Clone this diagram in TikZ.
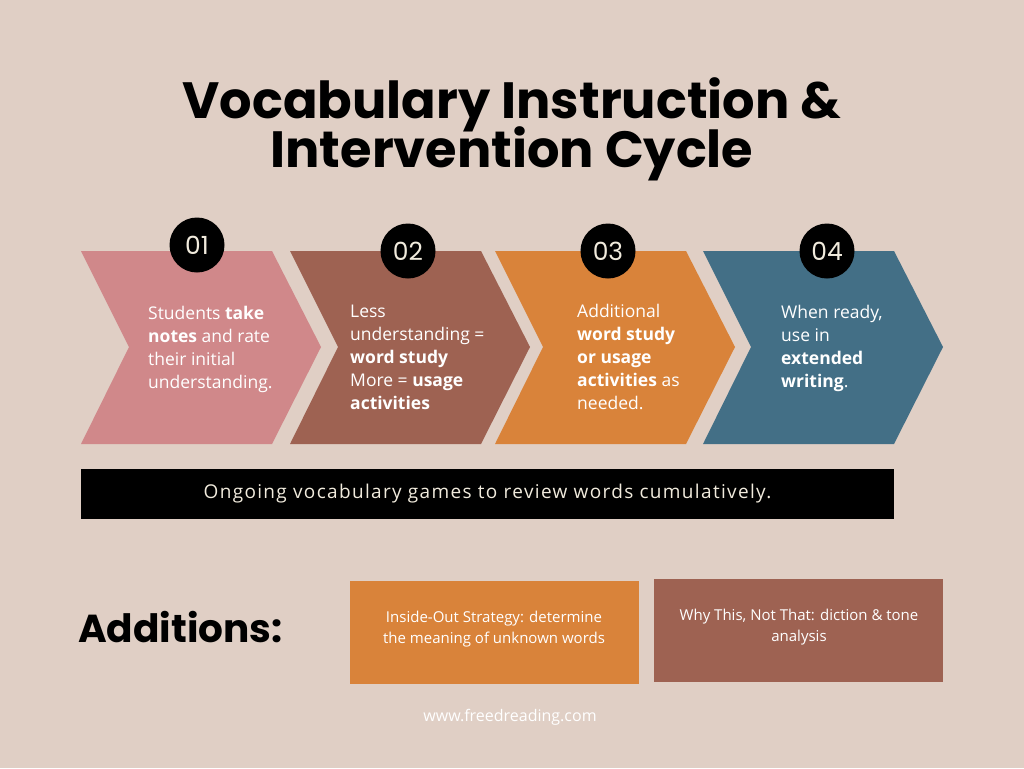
\documentclass[tikz,border=0pt]{standalone}
\usepackage{fontspec}
\setmainfont{Open Sans}
\newfontfamily\headfont{Poppins}
\newcommand\tightlines{\lineskiplimit=-60pt\relax}

\definecolor{bg}{HTML}{E0CFC5}
\definecolor{rose}{HTML}{D0888A}
\definecolor{clay}{HTML}{9E6252}
\definecolor{amber}{HTML}{D9833A}
\definecolor{slate}{HTML}{436F86}
\definecolor{cream}{HTML}{F1EBDD}

\tikzset{
  steptext/.style={anchor=north west,inner sep=0,align=left,text=white,
    font=\fontsize{17.5}{23}\selectfont},
  numdisc/.style={circle,fill=black,minimum size=55,inner sep=0,text=cream,
    font=\headfont\fontsize{25}{25}\selectfont},
  addtext/.style={inner sep=0,align=center,text=white,
    font=\fontsize{15}{21}\selectfont}
}

\begin{document}
\begin{tikzpicture}[x=1pt,y=-1pt]
\fill[bg](0,0) rectangle (1024,768);
\useasboundingbox (0,0) rectangle (1024,768);

% title
\node[align=center,font=\headfont\bfseries\fontsize{51}{49}\selectfont\tightlines] (title) at (512,129)
  {Vocabulary Instruction \&\\Intervention Cycle};

% chevrons
\foreach \x/\c in {81/rose,290/clay,495/amber,703/slate}
  \fill[\c](\x,251)--++(191,0)--++(49,96)--++(-49,97)--++(-191,0)--++(48,-97)--cycle;

% step numbers
\node[numdisc] (n1) at (197,245) {01};
\node[numdisc] (n2) at (408,251) {02};
\node[numdisc] (n3) at (608,251) {03};
\node[numdisc] (n4) at (827,251) {04};

% step texts
\node[steptext] (s1) at (148,306) {Students \textbf{take}\\\textbf{notes} and rate\\their initial\\understanding.};
\node[steptext] (s2) at (350,305) {Less\\understanding =\\\textbf{word study}\\More = \textbf{usage}\\\textbf{activities}};
\node[steptext] (s3) at (577,304) {Additional\\\textbf{word study}\\\textbf{or usage}\\\textbf{activities} as\\needed.};
\node[steptext] (s4) at (781,305) {When ready,\\use in\\\textbf{extended}\\\textbf{writing}.};

% ongoing bar
\node[fill=black,minimum width=813,minimum height=50,inner sep=0,text=cream,
  font=\fontsize{19}{19}\selectfont\addfontfeatures{LetterSpace=7}] (games) at (487.5,494)
  {Ongoing vocabulary games to review words cumulatively.};

% additions
\node[anchor=base west,inner sep=0,font=\headfont\bfseries\fontsize{39}{39}\selectfont] (additions) at (78,642) {Additions:};
\fill[amber](350,581) rectangle (639,684);
\fill[clay](654,579) rectangle (943,682);
\node[addtext] (inside) at (494,629) {Inside-Out Strategy: determine\\the meaning of unknown words};
\node[addtext] (whythis) at (799,627) {Why This, Not That: diction \& tone\\analysis};

\node[text=white,font=\fontsize{16}{16}\selectfont] (site) at (510,717) {www.freedreading.com};
\end{tikzpicture}
\end{document}
